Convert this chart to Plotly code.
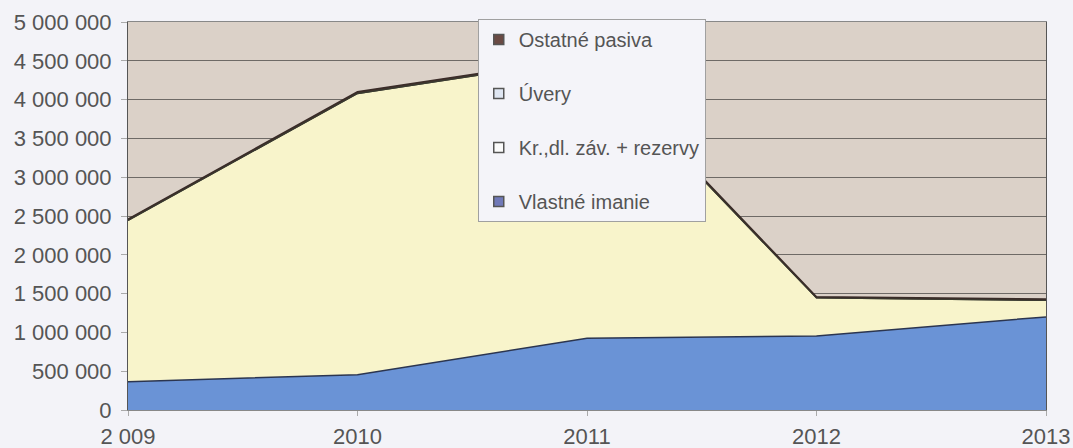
import plotly.graph_objects as go

years = [2009, 2010, 2011, 2012, 2013]
year_labels = ["2 009", "2010", "2011", "2012", "2013"]

vlastne_imanie = [365000, 455000, 925000, 955000, 1200000]
kr_dl_zav = [2080000, 3625000, 3605000, 490000, 215000]
uvery = [0, 0, 0, 0, 0]
ostatne_pasiva = [15000, 20000, 20000, 15000, 15000]

series = [
    ("Vlastné imanie", vlastne_imanie, "#6a93d6", "#2b3550", "#7079b8"),
    ("Kr.,dl. záv. + rezervy", kr_dl_zav, "#f8f4cb", "#3a3a30", "#fbfbfb"),
    ("Úvery", uvery, "#c9d6ea", "#3a3a30", "#dfe6f2"),
    ("Ostatné pasiva", ostatne_pasiva, "#4a3430", "#3a2c28", "#6a4a44"),
]

fig = go.Figure()
# stacked areas, no legend entries of their own
for name, vals, fill, line, _ in series:
    fig.add_trace(
        go.Scatter(
            x=years,
            y=vals,
            name=name,
            mode="lines",
            stackgroup="one",
            fillcolor=fill,
            line=dict(color=line, width=1.5),
            showlegend=False,
        )
    )

# square legend markers like the original
for rank, (name, _, _, _, mcol) in enumerate(reversed(series)):
    fig.add_trace(
        go.Scatter(
            x=[None],
            y=[None],
            name=name,
            mode="markers",
            marker=dict(symbol="square", size=10, color=mcol,
                        line=dict(color="#555555", width=1.5)),
            legendrank=rank + 1,
            legendgroup=f"g{rank}",
        )
    )

fig.update_layout(
    width=1073,
    height=448,
    margin=dict(l=128, r=27, t=22, b=38),
    paper_bgcolor="#f3f3f8",
    plot_bgcolor="#dbd1c8",
    separators=", ",
    font=dict(family="Liberation Sans, Arial, sans-serif", size=22, color="#555555"),
    showlegend=True,
    legend=dict(
        x=0.381,
        y=1.008,
        xanchor="left",
        yanchor="top",
        traceorder="grouped",
        tracegroupgap=25,
        bgcolor="#f4f4f9",
        bordercolor="#a0a0a0",
        borderwidth=1,
        font=dict(size=20, color="#555555"),
        itemwidth=30,
    ),
    xaxis=dict(
        range=[2009, 2013],
        tickvals=years,
        ticktext=year_labels,
        showgrid=False,
        zeroline=False,
        showline=True,
        linecolor="#888888",
        mirror=True,
        ticks="outside",
        ticklen=5,
        tickcolor="#aaaaaa",
        ticklabelstandoff=2,
        automargin=False,
    ),
    yaxis=dict(
        range=[0, 5000000],
        dtick=500000,
        tickformat=",d",
        showgrid=True,
        gridcolor="#6e6a66",
        gridwidth=1,
        zeroline=False,
        showline=True,
        linecolor="#555555",
        mirror=True,
        ticks="outside",
        ticklen=6,
        tickcolor="#aaaaaa",
        ticklabelstandoff=5,
        automargin=False,
    ),
)

# drop the default 8px body margin so the figure fills the window exactly
fig.write_html(
    "out.html",
    config={"displayModeBar": False},
    post_script="document.body.style.margin='0';document.body.style.overflow='hidden';",
)
